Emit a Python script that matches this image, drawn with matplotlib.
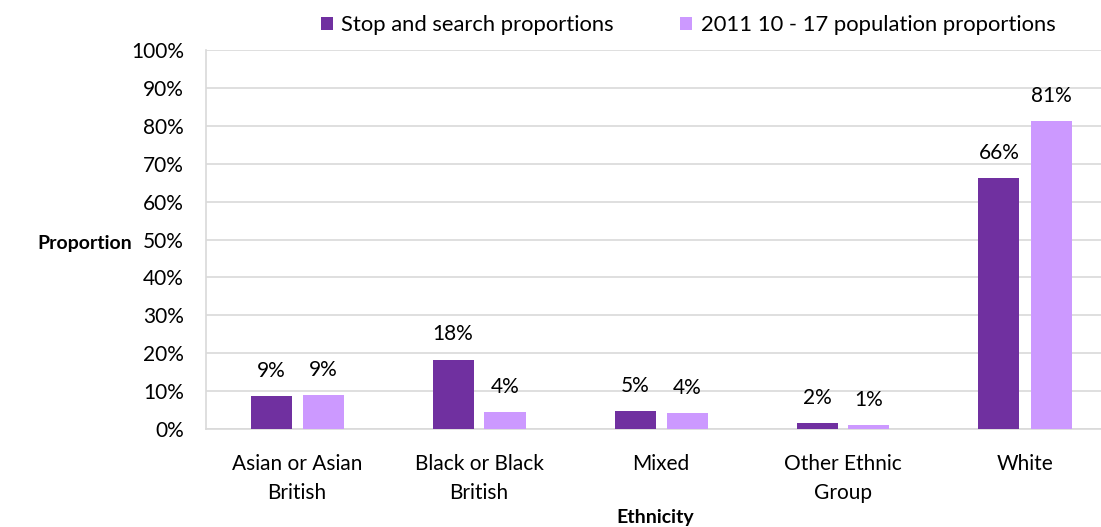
import matplotlib
matplotlib.use("Agg")
import matplotlib.pyplot as plt
import numpy as np
from matplotlib.ticker import FuncFormatter

categories = ["Asian or Asian\nBritish", "Black or Black\nBritish", "Mixed",
              "Other Ethnic\nGroup", "White"]
stop_search = [8.7, 18.3, 4.8, 1.6, 66.1]
population = [8.9, 4.4, 4.1, 1.0, 81.3]
series_names = ["Stop and search proportions", "2011 10 - 17 population proportions"]
colors = ["#7030A0", "#CC99FF"]

plt.rcParams["font.family"] = ["Lato", "DejaVu Sans"]
FS = 15

fig = plt.figure(figsize=(11.01, 5.27), dpi=100)
W, H = 1101, 527
left, right = 206, 1116
top, bottom = 50, 429
ax = fig.add_axes([left / W, 1 - bottom / H, (right - left) / W, (bottom - top) / H])

x = np.arange(len(categories))
bw = 41 / 182
gap = 11 / 182
offs = [-(bw + gap) / 2, (bw + gap) / 2]
for vals, off, c, name in zip([stop_search, population], offs, colors, series_names):
    bars = ax.bar(x + off, vals, bw, color=c, label=name, zorder=3)
    for b, v in zip(bars, vals):
        ax.annotate(f"{v:.0f}%", (b.get_x() + b.get_width() / 2, v),
                    xytext=(0, 11), textcoords="offset points",
                    ha="center", va="bottom", fontsize=FS, color="#000000")

ax.set_xlim(-0.5, len(categories) - 0.5)
ax.set_ylim(0, 100)
ax.set_yticks(np.arange(0, 101, 10))
ax.yaxis.set_major_formatter(FuncFormatter(lambda v, p: f"{v:.0f}%"))
ax.grid(axis="y", color="#D9D9D9", linewidth=1.2, zorder=0)
for s in ["top", "right"]:
    ax.spines[s].set_visible(False)
for s in ["left", "bottom"]:
    ax.spines[s].set_color("#D9D9D9")
    ax.spines[s].set_linewidth(1.2)
ax.tick_params(axis="both", length=0, labelsize=FS, colors="#000000")
ax.tick_params(axis="y", pad=16)
ax.tick_params(axis="x", pad=18)
ax.set_xticks(x)
ax.set_xticklabels(categories, linespacing=1.55)

fig.text(37 / W, 1 - 243 / H, "Proportion", fontsize=14, fontweight="bold",
         ha="left", va="center")
fig.text(655 / W, 1 - 517 / H, "Ethnicity", fontsize=14,
         fontweight="bold", ha="center", va="center")

leg = fig.legend(loc="center", bbox_to_anchor=(688 / W, 1 - 25 / H), ncol=2,
                 frameon=False, fontsize=15.8, handlelength=0.55, handleheight=0.55,
                 handletextpad=0.4, columnspacing=3.0)

fig.savefig("out.png", dpi=100, facecolor="white")
